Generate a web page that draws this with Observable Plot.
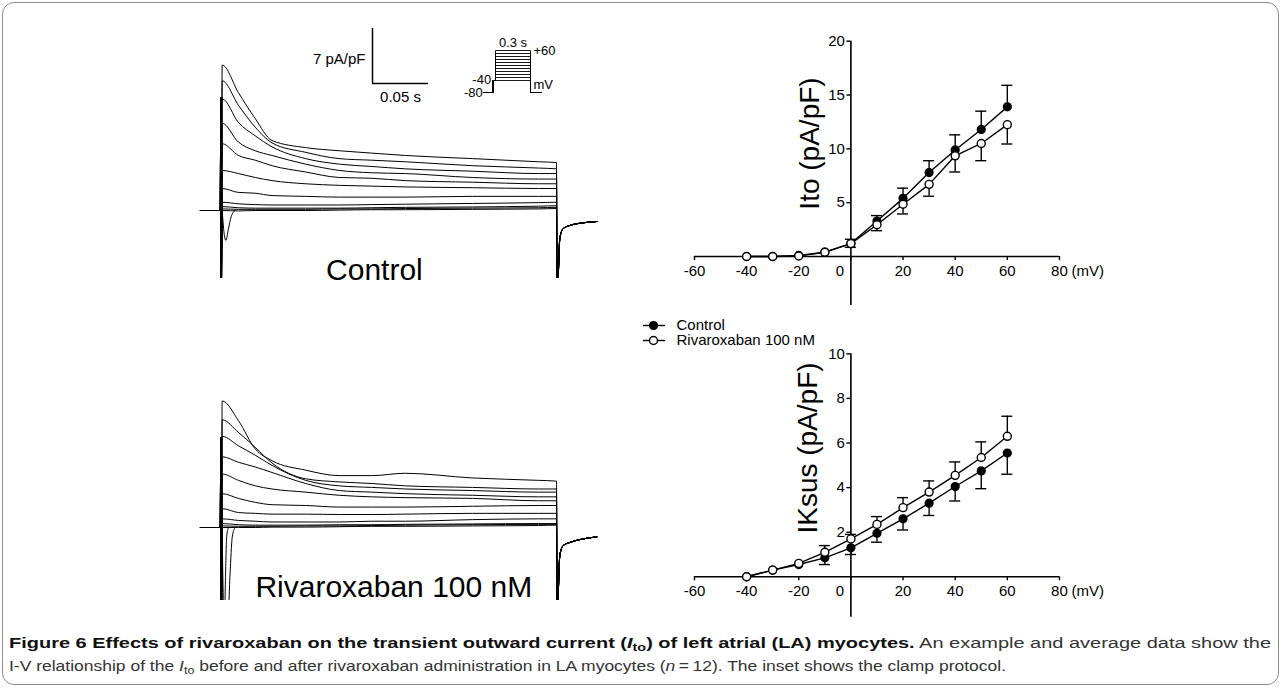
<!DOCTYPE html>
<html>
<head>
<meta charset="utf-8">
<script src="https://cdn.jsdelivr.net/npm/d3@7"></script>
<script src="https://cdn.jsdelivr.net/npm/@observablehq/plot@0.6"></script>
<style>
  html, body { margin: 0; padding: 0; background: #fff; }
  #fig { position: relative; width: 1282px; height: 688px; overflow: hidden; font-family: "Liberation Sans", Arial, sans-serif; color: #000; }
  #frame { position: absolute; left: 2px; top: 2px; width: 1277px; height: 683px; box-sizing: border-box; border: 1px solid #8c8c8c; border-radius: 12px; }
  .title { position: absolute; font-size: 30px; line-height: 30px; white-space: nowrap; text-align: center; width: 400px; }
  .capline { position: absolute; left: 9px; font-family: "Liberation Sans", Arial, sans-serif; font-size: 15.5px; line-height: 15px; white-space: nowrap; transform-origin: 0 0; color: #333; }
  .capline b { color: #111; }
  .capline sub { font-size: 72%; vertical-align: -0.25em; line-height: 0; }
</style>
</head>
<body>
<div id="fig">
  <div id="frame"></div>
</div>
<script>
// ================= DATA =================
// I-V relationship (mV vs pA/pF)
const voltages        = [-40, -30, -20, -10, 0, 10, 20, 30, 40, 50, 60];
const itoControl      = [0, 0, 0.1, 0.4, 1.2, 3.3, 5.4, 7.8, 9.9, 11.8, 13.9];
const itoControlSem   = [0, 0, 0.05, 0.1, 0.4, 0.5, 0.95, 1.1, 1.4, 1.7, 2.0];
const itoRiva         = [0, 0, 0.05, 0.4, 1.2, 2.95, 4.85, 6.7, 9.35, 10.5, 12.25];
const itoRivaSem      = [0, 0, 0.05, 0.1, 0.35, 0.55, 0.9, 1.1, 1.5, 1.6, 1.8];
const iksusControl    = [0, 0.3, 0.55, 0.85, 1.3, 1.95, 2.6, 3.3, 4.05, 4.75, 5.55];
const iksusControlSem = [0, 0.05, 0.1, 0.3, 0.3, 0.4, 0.5, 0.55, 0.65, 0.8, 0.95];
const iksusRiva       = [0, 0.3, 0.6, 1.1, 1.7, 2.35, 3.1, 3.8, 4.55, 5.35, 6.3];
const iksusRivaSem    = [0, 0.05, 0.1, 0.3, 0.2, 0.35, 0.45, 0.5, 0.6, 0.7, 0.9];
const seriesNames     = ["Control", "Rivaroxaban 100 nM"];
const xTickValues     = [-60, -40, -20, 0, 20, 40, 60, 80];
const xUnitLabel      = "(mV)";
const itoYTicks       = [5, 10, 15, 20];
const iksusYTicks     = [2, 4, 6, 8, 10];
const itoAxisLabel    = "Ito (pA/pF)";
const iksusAxisLabel  = "IKsus (pA/pF)";

// Example current traces (time in s from step onset, current in pA/pF)
const traceVoltages = [60, 50, 40, 30, 20, 10, 0, -10, -20, -30, -40];
const traceTimes    = [0.0015, 0.016, 0.031, 0.046, 0.076, 0.106, 0.135, 0.165, 0.225, 0.284, 0.3];
const controlTraces = [
  [18.5, 15.0, 11.7, 8.9, 8.0, 7.6, 7.3, 7.0, 6.6, 6.2, 6.1],
  [16.5, 13.4, 10.6, 8.6, 7.4, 6.6, 6.4, 6.2, 5.7, 5.4, 5.3],
  [14.2, 11.2, 9.5, 8.1, 6.6, 5.9, 5.6, 5.3, 5.0, 4.7, 4.7],
  [11.1, 8.7, 7.6, 7.0, 5.9, 5.1, 4.8, 4.7, 4.2, 4.0, 4.0],
  [8.5, 7.0, 6.4, 5.7, 4.9, 4.2, 4.1, 3.8, 3.6, 3.4, 3.4],
  [5.1, 4.7, 4.2, 3.8, 3.4, 3.2, 3.1, 3.0, 2.9, 2.8, 2.8],
  [2.8, 2.3, 2.2, 1.9, 1.8, 1.7, 1.7, 1.7, 1.8, 1.8, 1.8],
  [1.05, 0.85, 0.75, 0.7, 0.7, 0.7, 0.75, 0.8, 0.9, 1.0, 1.05],
  [0.5, 0.35, 0.3, 0.3, 0.3, 0.3, 0.35, 0.4, 0.45, 0.55, 0.6],
  [0.2, 0.15, 0.15, 0.15, 0.15, 0.2, 0.2, 0.25, 0.3, 0.35, 0.4],
  [0, -0.05, 0, 0, 0, 0.05, 0.1, 0.1, 0.15, 0.2, 0.25]
];
const rivaTraces = [
  [16.1, 13.6, 10.0, 8.5, 7.3, 6.6, 6.6, 6.9, 6.3, 6.0, 5.9],
  [13.7, 12.1, 10.2, 8.2, 6.2, 5.8, 5.6, 5.3, 5.1, 4.9, 4.9],
  [11.6, 10.4, 9.2, 7.9, 6.0, 5.3, 5.1, 4.9, 4.7, 4.5, 4.5],
  [9.0, 8.3, 7.7, 7.0, 5.6, 4.7, 4.5, 4.3, 4.1, 3.9, 3.9],
  [6.8, 6.0, 5.3, 4.9, 4.5, 4.1, 3.9, 3.8, 3.7, 3.4, 3.4],
  [4.3, 3.7, 3.2, 2.9, 2.8, 2.6, 2.6, 2.6, 2.7, 2.8, 2.8],
  [2.4, 1.9, 1.8, 1.7, 1.7, 1.65, 1.65, 1.7, 1.8, 1.8, 1.8],
  [1.1, 0.9, 0.8, 0.7, 0.7, 0.7, 0.8, 0.8, 1.0, 1.1, 1.1],
  [0.5, 0.35, 0.3, 0.3, 0.3, 0.35, 0.35, 0.4, 0.45, 0.5, 0.5],
  [0.2, 0.15, 0.15, 0.15, 0.2, 0.2, 0.25, 0.3, 0.35, 0.4, 0.4],
  [0, 0, 0, 0.05, 0.05, 0.1, 0.15, 0.15, 0.2, 0.25, 0.3]
];
const holdTimes    = [-0.018, -0.0002];
const holdValues   = [0, 0];
const spikeTimes   = [0.0002, 0.0007];
const controlSpike = [14.4, -12];
const rivaSpike    = [11.5, -12];
const tailTimes    = [0.3004, 0.303, 0.306, 0.312, 0.322, 0.336];
const controlTail  = [-12, -3.5, -2.3, -1.9, -1.6, -1.4];
const rivaTail     = [-12, -3.5, -2.3, -1.9, -1.5, -1.2];
const controlDipTimes  = [0.0015, 0.0035, 0.0048, 0.007, 0.0095, 0.013];
const controlDipValues = [0, -3.2, -3.8, -2.4, -0.8, 0];
const rivaDip1Times    = [0.0015, 0.0025, 0.0035, 0.0045, 0.0055, 0.007];
const rivaDip1Values   = [0, -12, -12, -6, -1.2, 0];
const rivaDip2Times    = [0.0015, 0.003, 0.0065, 0.0085, 0.0105, 0.013];
const rivaDip2Values   = [0, -12, -12, -6, -1.2, 0];
const panelTitles      = ["Control", "Rivaroxaban 100 nM"];

// Scale bar and clamp protocol inset
const scaleBarCurrent = 7;      // pA/pF
const scaleBarTime    = 0.05;   // s
const scaleBarCurrentLabel = "7 pA/pF";
const scaleBarTimeLabel    = "0.05 s";
const protocolLevels   = [-40, -30, -20, -10, 0, 10, 20, 30, 40, 50, 60];
const protocolHold     = -80;
const protocolPrepulse = -40;
const protocolTimes    = [-0.1, -0.02, 0, 0.3, 0.39]; // start, prepulse, step on, step off, end
const protocolLabels   = { duration: "0.3 s", top: "+60", pre: "-40", hold: "-80", unit: "mV" };

// ================= LAYOUT =================
const fig = document.getElementById("fig");
const baseStyle = { background: "none", overflow: "visible", fontFamily: '"Liberation Sans", Arial, sans-serif', fontSize: "15px", color: "black" };
const trace = { zeroX: 220, pxPerSec: 1120, pxPerUnit: 7.86 };
const iv = { zeroX: 850.4, pxPerMv: 2.607 };

function place(el, left, top) {
  el.style.position = "absolute";
  el.style.left = left + "px";
  el.style.top = top + "px";
  el.style.maxWidth = "none";
  fig.appendChild(el);
}

function traceRows(values, spike, tail, k) {
  const rows = [];
  holdTimes.forEach((t, i) => rows.push({ t, I: holdValues[i], k }));
  spikeTimes.forEach((t, i) => rows.push({ t, I: spike[i], k }));
  traceTimes.forEach((t, i) => rows.push({ t, I: values[i], k }));
  tailTimes.forEach((t, i) => rows.push({ t, I: tail[i], k }));
  return rows;
}

function tracePanel({ left, top, width, bottom, baseline, traces, spike, tail, dips, extra = [] }) {
  const height = bottom - top;
  const xd = [(left - trace.zeroX) / trace.pxPerSec, (left + width - trace.zeroX) / trace.pxPerSec];
  const yd = [(baseline - bottom) / trace.pxPerUnit, (baseline - top) / trace.pxPerUnit];
  let rows = [];
  traces.forEach((vals, k) => { rows = rows.concat(traceRows(vals, spike, tail, "v" + traceVoltages[k])); });
  dips.forEach((d, j) => d.times.forEach((t, i) => rows.push({ t, I: d.values[i], k: "dip" + j })));
  const p = Plot.plot({
    width, height, margin: 0,
    x: { domain: xd, range: [0, width], axis: null },
    y: { domain: yd, range: [height, 0], axis: null },
    style: baseStyle,
    marks: [
      Plot.line(rows, { x: "t", y: "I", z: "k", stroke: "black", strokeWidth: 1, curve: "monotone-x", clip: true }),
      ...extra
    ]
  });
  place(p, left, top);
}

// Control traces + scale bar
const barT = (372 - trace.zeroX) / trace.pxPerSec;
const barI = (210 - 83) / trace.pxPerUnit;
tracePanel({
  left: 195, top: 20, width: 410, bottom: 278, baseline: 210,
  traces: controlTraces, spike: controlSpike, tail: controlTail,
  dips: [{ times: controlDipTimes, values: controlDipValues }],
  extra: [
    Plot.ruleX([barT], { y1: barI, y2: barI + scaleBarCurrent, stroke: "black", strokeWidth: 1.5 }),
    Plot.ruleY([barI], { x1: barT, x2: barT + scaleBarTime, stroke: "black", strokeWidth: 1.5 }),
    Plot.text([scaleBarCurrentLabel], { x: barT, y: barI + scaleBarCurrent * 0.44, dx: -7, textAnchor: "end", fontSize: 15, fill: "black", text: d => d }),
    Plot.text([scaleBarTimeLabel], { x: barT + scaleBarTime / 2, y: barI, dy: 14, fontSize: 15, fill: "black", text: d => d })
  ]
});

// Rivaroxaban traces
tracePanel({
  left: 195, top: 360, width: 410, bottom: 600, baseline: 527,
  traces: rivaTraces, spike: rivaSpike, tail: rivaTail,
  dips: [{ times: rivaDip1Times, values: rivaDip1Values }, { times: rivaDip2Times, values: rivaDip2Values }],
  extra: []
});

// Clamp protocol inset
(function () {
  const left = 440, top = 30, width = 130, height = 72;
  const ins = { zeroX: 495, pxPerSec: 116.7, refY: 80, pxPerMv: 0.3 };
  const xd = [(left - ins.zeroX) / ins.pxPerSec, (left + width - ins.zeroX) / ins.pxPerSec];
  const yd = [protocolPrepulse + (ins.refY - (top + height)) / ins.pxPerMv, protocolPrepulse + (ins.refY - top) / ins.pxPerMv];
  const [tStart, tPre, tOn, tOff, tEnd] = protocolTimes;
  let rows = [];
  protocolLevels.forEach(V => {
    const pts = [[tStart, protocolHold], [tPre, protocolHold], [tPre, protocolPrepulse], [tOn, protocolPrepulse],
                 [tOn, V], [tOff, V], [tOff, protocolHold], [tEnd, protocolHold]];
    pts.forEach(([t, v]) => rows.push({ t, v, k: V }));
  });
  const top60 = protocolLevels[protocolLevels.length - 1];
  const p = Plot.plot({
    width, height, margin: 0,
    x: { domain: xd, range: [0, width], axis: null },
    y: { domain: yd, range: [height, 0], axis: null },
    style: baseStyle,
    marks: [
      Plot.line(rows, { x: "t", y: "v", z: "k", stroke: "black", strokeWidth: 0.9 }),
      Plot.text([protocolLabels.duration], { x: (tOn + tOff) / 2, y: top60, dy: -8, fontSize: 13, fill: "black", text: d => d }),
      Plot.text([protocolLabels.top], { x: tOff, y: top60, dx: 3, textAnchor: "start", fontSize: 13, fill: "black", text: d => d }),
      Plot.text([protocolLabels.pre], { x: tPre, y: protocolPrepulse, dx: -2, dy: -1, textAnchor: "end", fontSize: 13, fill: "black", text: d => d }),
      Plot.text([protocolLabels.hold], { x: tStart, y: protocolHold, dx: -1, textAnchor: "end", fontSize: 13, fill: "black", text: d => d }),
      Plot.text([protocolLabels.unit], { x: tOff, y: protocolHold, dx: 3, dy: -8, textAnchor: "start", fontSize: 13, fill: "black", text: d => d })
    ]
  });
  place(p, left, top);
})();

// Panel titles
[[panelTitles[0], 374.4, 280], [panelTitles[1], 393.8, 597]].forEach(([txt, cx, base]) => {
  const d = document.createElement("div");
  d.className = "title";
  d.textContent = txt;
  d.style.left = (cx - 200) + "px";
  d.style.top = (base - 25.4) + "px";
  fig.appendChild(d);
});

// I-V plots
function ivPlot({ left, top, width, height, zeroY, pxPerUnit, yTicks, yMin, label, labelX, labelY, ctrl, ctrlSem, riva, rivaSem, ctrlDir, rivaDir, labelDy }) {
  const xd = [(left - iv.zeroX) / iv.pxPerMv, (left + width - iv.zeroX) / iv.pxPerMv];
  const yd = [(zeroY - (top + height)) / pxPerUnit, (zeroY - top) / pxPerUnit];
  const tickLenY = 4 / pxPerUnit;
  const tickLenX = 4 / iv.pxPerMv;
  const capHalf = 5.5 / iv.pxPerMv;
  const ctrlRows = voltages.map((v, i) => ({ v, m: ctrl[i], e: ctrlSem[i] }));
  const rivaRows = voltages.map((v, i) => ({ v, m: riva[i], e: rivaSem[i] }));
  const err = (rows, dir) => {
    const r = rows.filter(d => d.e >= 0.2);
    return [
      Plot.ruleX(r, { x: "v", y1: "m", y2: d => d.m + dir * d.e, stroke: "black", strokeWidth: 1.4 }),
      Plot.ruleY(r, { y: d => d.m + dir * d.e, x1: d => d.v - capHalf, x2: d => d.v + capHalf, stroke: "black", strokeWidth: 1.4 })
    ];
  };
  const xMax = xTickValues[xTickValues.length - 1];
  const p = Plot.plot({
    width, height, margin: 0,
    x: { domain: xd, range: [0, width], axis: null },
    y: { domain: yd, range: [height, 0], axis: null },
    style: baseStyle,
    marks: [
      Plot.ruleY([0], { x1: xTickValues[0], x2: xMax, stroke: "black", strokeWidth: 1.6 }),
      Plot.ruleX([0], { y1: yMin, y2: yTicks[yTicks.length - 1], stroke: "black", strokeWidth: 1.6 }),
      Plot.ruleX(xTickValues, { x: d => d, y1: 0, y2: -tickLenY, stroke: "black", strokeWidth: 1.4 }),
      Plot.ruleY(yTicks, { y: d => d, x1: 0, x2: -tickLenX, stroke: "black", strokeWidth: 1.4 }),
      Plot.text(xTickValues.filter(d => d !== 0), { x: d => d, y: 0, dy: labelDy, fontSize: 15, fill: "black", text: d => String(d) }),
      Plot.text(xTickValues.filter(d => d === 0), { x: d => d, y: 0, dx: -11, dy: labelDy, fontSize: 15, fill: "black", text: d => String(d) }),
      Plot.text([xUnitLabel], { x: xMax, y: 0, dx: 12, dy: labelDy, textAnchor: "start", fontSize: 15, fill: "black", text: d => d }),
      Plot.text(yTicks, { x: 0, y: d => d, dx: -6, textAnchor: "end", fontSize: 15, fill: "black", text: d => String(d) }),
      Plot.text([label], { frameAnchor: "top-left", dx: labelX - left, dy: labelY - top, rotate: -90, textAnchor: "middle", lineAnchor: "middle", fontSize: 28, fill: "black", text: d => d }),
      ...err(ctrlRows, ctrlDir),
      ...err(rivaRows, rivaDir),
      Plot.line(ctrlRows, { x: "v", y: "m", stroke: "black", strokeWidth: 1.4 }),
      Plot.line(rivaRows, { x: "v", y: "m", stroke: "black", strokeWidth: 1.4 }),
      Plot.dot(ctrlRows, { x: "v", y: "m", r: 4, fill: "black", stroke: "black", strokeWidth: 1.2 }),
      Plot.dot(rivaRows, { x: "v", y: "m", r: 4, fill: "white", stroke: "black", strokeWidth: 1.4 })
    ]
  });
  place(p, left, top);
}

ivPlot({
  left: 640, top: 25, width: 490, height: 290, zeroY: 256, pxPerUnit: 10.765,
  yTicks: itoYTicks, yMin: -4.55, label: itoAxisLabel, labelX: 810, labelY: 143,
  ctrl: itoControl, ctrlSem: itoControlSem, riva: itoRiva, rivaSem: itoRivaSem, ctrlDir: 1, rivaDir: -1, labelDy: 15
});
ivPlot({
  left: 640, top: 340, width: 490, height: 290, zeroY: 576.3, pxPerUnit: 22.3,
  yTicks: iksusYTicks, yMin: -1.81, label: iksusAxisLabel, labelX: 808, labelY: 447.5,
  ctrl: iksusControl, ctrlSem: iksusControlSem, riva: iksusRiva, rivaSem: iksusRivaSem, ctrlDir: -1, rivaDir: 1, labelDy: 14
});

// Legend
(function () {
  const w = 200, h = 36;
  const p = Plot.plot({
    width: w, height: h, margin: 0,
    x: { domain: [0, w], range: [0, w], axis: null },
    y: { type: "point", domain: seriesNames, range: [11, 26], padding: 0, axis: null },
    style: baseStyle,
    marks: [
      Plot.ruleY(seriesNames, { y: d => d, x1: 5, x2: 27, stroke: "black", strokeWidth: 1.4 }),
      Plot.dot([seriesNames[0]], { x: 15, y: d => d, r: 4, fill: "black", stroke: "black", strokeWidth: 1.2 }),
      Plot.dot([seriesNames[1]], { x: 15, y: d => d, r: 4, fill: "white", stroke: "black", strokeWidth: 1.4 }),
      Plot.text(seriesNames, { x: 38, y: d => d, textAnchor: "start", fontSize: 15, fill: "black", text: d => d })
    ]
  });
  place(p, 638, 314);
})();

// Caption
const captionLines = [
  { html: '<b>Figure 6 Effects of rivaroxaban on the transient outward current (<i>I</i><sub>to</sub>) of left atrial (LA) myocytes.</b> An example and average data show the', top: 635, width: 1262 },
  { html: 'I-V relationship of the <i>I</i><sub>to</sub> before and after rivaroxaban administration in LA myocytes (<i>n</i>&#8201;=&#8201;12). The inset shows the clamp protocol.', top: 658, width: 997 }
];
captionLines.forEach(l => {
  const d = document.createElement("div");
  d.className = "capline";
  d.innerHTML = l.html;
  d.style.top = l.top + "px";
  fig.appendChild(d);
  const w = d.getBoundingClientRect().width;
  d.style.transform = `scaleX(${l.width / w})`;
});
</script>
</body>
</html>
